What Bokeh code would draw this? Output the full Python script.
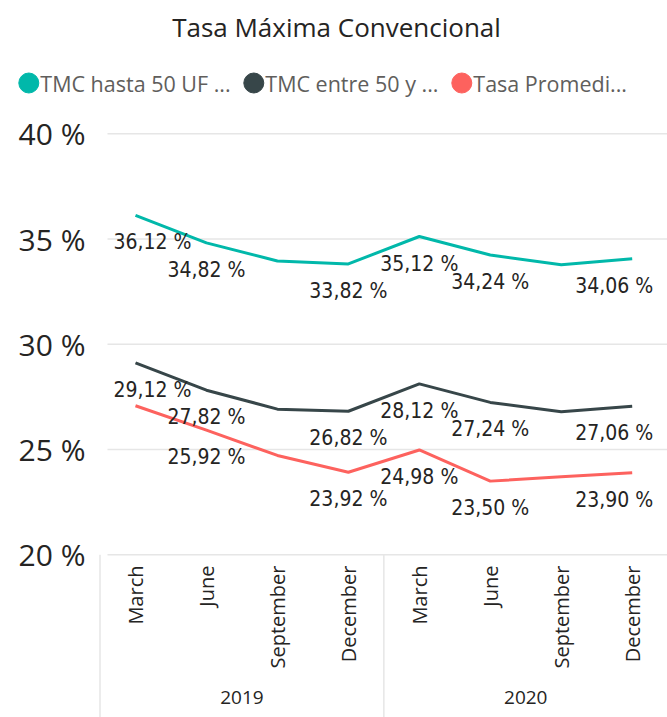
import math
from bokeh.plotting import figure
from bokeh.models import Range1d, ColumnDataSource
from bokeh.core.properties import value
from bokeh.embed import file_html
from bokeh.resources import INLINE

# ---------------- data ----------------
chart_title = "Tasa Máxima Convencional"
years = ["2019", "2020"]
months = ["March", "June", "September", "December"]
series_names = ["TMC hasta 50 UF ...", "TMC entre 50 y ...", "Tasa Promedi..."]
tmc_hasta_50 = [36.12, 34.82, 33.96, 33.82, 35.12, 34.24, 33.78, 34.06]
tmc_entre_50 = [29.12, 27.82, 26.92, 26.82, 28.12, 27.24, 26.80, 27.06]
tasa_promedio = [27.08, 25.92, 24.72, 23.92, 24.98, 23.50, 23.71, 23.90]
# which points carry a data label in the original
label_hasta = [True, True, False, True, True, True, False, True]
label_entre = [True, True, False, True, True, True, False, True]
label_prom = [False, True, False, True, True, True, False, True]
y_ticks = [20, 25, 30, 35, 40]

# ---------------- style / layout ----------------
colors = ["#01B8AA", "#374649", "#FD625E"]
TXT = "#252423"
GRID = "#E6E6E6"
NUM_FONT = value("DejaVu Sans Condensed")
UI_FONT = value("Open Sans")

W, H = 667, 717
PX_X = 70.96      # px per category
X0 = 99.5         # px where the category band starts
PX_Y = 21.05      # px per percentage point
Y_TOP_TICK = 133.3  # px of the top gridline


def dx(px):
    """horizontal page pixel -> data x"""
    return (px - X0) / PX_X


def dy(px):
    """vertical page pixel -> data y"""
    return y_ticks[-1] - (px - Y_TOP_TICK) / PX_Y


p = figure(width=W, height=H, x_range=Range1d(dx(0), dx(W)),
           y_range=Range1d(dy(H), dy(0)), x_axis_location=None,
           y_axis_location=None, toolbar_location=None, output_backend="svg",
           min_border=0, outline_line_color=None)
p.grid.visible = False
p.background_fill_color = "white"

n = len(years) * len(months)
xs = [i + 0.5 for i in range(n)]

# ---- title ----
p.text(x=[dx(336)], y=[dy(26.5)], text=[chart_title], text_align="center",
       text_baseline="middle", text_font=UI_FONT, text_font_size="26px",
       text_color=TXT)

# ---- legend ----
leg_px = [28.3, 253.3, 461.3]
p.scatter(x=[dx(v) for v in leg_px], y=[dy(82.5)] * 3, size=20, marker="circle",
          fill_color=colors, line_color=colors)
p.text(x=[dx(v + 11.5) for v in leg_px], y=[dy(83)] * 3, text=series_names,
       text_align="left", text_baseline="middle", text_font=UI_FONT,
       text_font_size="21.5px", text_color="#605E5C")

# ---- gridlines + y tick labels ----
grid_x0 = dx(107)
p.segment(x0=[grid_x0] * len(y_ticks), y0=y_ticks, x1=[dx(W)] * len(y_ticks),
          y1=y_ticks, line_color=GRID, line_width=1.5)
p.text(x=[dx(85)] * len(y_ticks), y=y_ticks, text=["%d %%" % t for t in y_ticks],
       text_align="right", text_baseline="middle", text_font=UI_FONT,
       text_font_size="30px", text_color=TXT)

# ---- category separators (left edge and between years) ----
bounds = [k * len(months) for k in range(len(years))]
p.segment(x0=bounds, y0=[y_ticks[0]] * len(bounds), x1=bounds,
          y1=[dy(H)] * len(bounds), line_color=GRID, line_width=1.5)

# ---- lines ----
series = [tmc_hasta_50, tmc_entre_50, tasa_promedio]
masks = [label_hasta, label_entre, label_prom]
for vals, col in zip(series, colors):
    p.line(x=xs, y=vals, line_color=col, line_width=3)


def fmt(v):
    return ("%.2f" % v).replace(".", ",") + " %"


lx, ly, lt, lxo = [], [], [], []
for vals, mask in zip(series, masks):
    for i, (v, m) in enumerate(zip(vals, mask)):
        if not m:
            continue
        lx.append(xs[i]); ly.append(v); lt.append(fmt(v))
        lxo.append(17 if i == 0 else (-18 if i == n - 1 else 0))
lsrc = ColumnDataSource(dict(x=lx, y=ly, text=lt, xo=lxo, yo=[27] * len(lx)))
p.text(x="x", y="y", text="text", x_offset="xo", y_offset="yo", source=lsrc,
       text_align="center", text_baseline="middle", text_font=NUM_FONT,
       text_font_size="21px", text_color=TXT)

# ---- month labels (rotated) and year labels ----
p.text(x=xs, y=[dy(565)] * n, text=months * len(years), angle=math.pi / 2,
       text_align="right", text_baseline="middle", text_font=UI_FONT,
       text_font_size="20px", text_color=TXT)
year_x = [k * len(months) + len(months) / 2 for k in range(len(years))]
p.text(x=year_x, y=[dy(697)] * len(years), text=years, text_align="center",
       text_baseline="middle", text_font=UI_FONT, text_font_size="19px",
       text_color=TXT)

open("out.html", "w").write(file_html(p, INLINE))
